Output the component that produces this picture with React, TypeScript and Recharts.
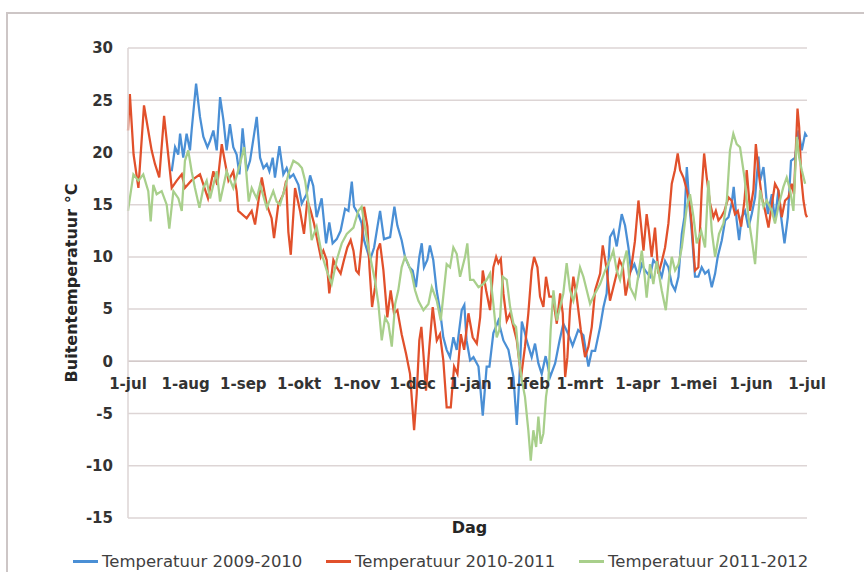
import { LineChart, Line, XAxis, YAxis, CartesianGrid, ReferenceLine, Legend } from "recharts";

const WIDTH = 864;
const HEIGHT = 572;
const PLOT_TOP = 48;
const PLOT_BOTTOM = 518;
const Y_MIN = -15;
const Y_MAX = 30;

const MONTH_DAYS = [0, 31, 62, 92, 123, 153, 184, 215, 243, 274, 304, 335, 365];
const MONTH_LABELS = ["1-jul", "1-aug", "1-sep", "1-okt", "1-nov", "1-dec", "1-jan", "1-feb", "1-mrt", "1-apr", "1-mei", "1-jun", "1-jul"];
const Y_TICKS = [-15, -10, -5, 0, 5, 10, 15, 20, 25, 30];

// days since 1 juli at the turning points of each line
const days0910 = [23.5, 25.3, 27, 28, 29.7, 31.5, 33.3, 34.2, 36.6, 38.7, 40.5, 42.7, 44.1, 45.9, 47.7, 49.5, 51.3, 53, 54.8, 56.6, 58.4, 59.9, 61.6, 63.8, 65.6, 69.2, 71, 72.8, 74.6, 76, 77.8, 79, 81.4, 83.5, 85.3, 87.1, 88.9, 91.6, 93.4, 96, 97.9, 99.6, 101.4, 104.1, 106.5, 108.2, 110, 112.2, 114.3, 116.7, 118.5, 120.3, 121.5, 123.8, 125.6, 126.9, 130.1, 132.3, 134.1, 135.5, 137.6, 140.9, 143.2, 144.8, 147.1, 148.9, 151.3, 153, 154.8, 156.6, 157.9, 159.1, 160.9, 162.3, 164.1, 165.9, 167.7, 169.5, 171.3, 173.1, 174.9, 176.7, 179.4, 180.8, 182, 183.9, 185.7, 188.4, 190.7, 192.8, 194.3, 196.4, 199.1, 201.8, 204.5, 207.2, 209, 210.8, 211.7, 213.4, 214.3, 217, 218.8, 220.6, 222.4, 224.5, 226.9, 229.6, 232, 234, 236.7, 239, 242, 244.8, 247.5, 249.3, 251.1, 253.8, 255.6, 257.3, 259.1, 261, 262.7, 265.4, 267.2, 269, 270.4, 272.2, 274.4, 276.2, 278, 280.6, 282.4, 284.2, 286.9, 288.7, 290.5, 292.3, 294.1, 295.9, 297.7, 299.1, 300.4, 301.6, 303, 304.8, 306.6, 308.4, 310.2, 312, 313.8, 315.6, 317, 319.2, 321, 322.8, 324.5, 325.6, 327.2, 328.5, 329.9, 331.7, 333.5, 335.3, 337.1, 338.9, 339.8, 341.6, 342.5, 343.9, 346.1, 347.8, 349.6, 351.1, 352.9, 354.7, 356.4, 358.6, 360.4, 362.2, 364, 365];
const temps0910 = [18.2, 20.5, 19.8, 21.8, 19.5, 21.8, 20.2, 22.1, 26.6, 23.4, 21.5, 20.5, 21.1, 22.1, 20.2, 25.3, 23.1, 20.2, 22.7, 20.5, 19.8, 17.9, 22.3, 18.2, 19.2, 23.4, 19.5, 18.5, 18.9, 18.2, 19.5, 17.6, 20.6, 17.9, 18.5, 17.6, 17.9, 16.9, 15.1, 16, 17.8, 16.8, 13.8, 15.6, 11.3, 13.3, 11.3, 11.7, 12.5, 14.6, 14.4, 17.2, 14.8, 14.1, 13.2, 11.6, 9.7, 10.9, 12.9, 14.4, 11.7, 11.9, 14.8, 13, 11.6, 10, 9, 8.7, 7.1, 10, 11.3, 9, 9.7, 11.1, 9.7, 6.8, 4.9, 2.3, 1.1, 0.4, 2.3, 1.1, 4.9, 5.4, 2, 0.1, 0.4, -0.5, -5.2, -0.5, -0.5, 2.7, 3.9, 2, 1.1, -1.5, -6.1, -0.2, 3.8, 2.7, 2, 0.4, 1.7, -0.2, -1.2, 0.5, -1.5, -0.2, 2, 3.6, 2.6, 1.5, 3, 2.5, -0.5, 1, 1, 3.3, 5.2, 6.5, 11.9, 12.5, 11, 14.1, 13, 10.9, 8.7, 9.3, 8.1, 9.3, 8.7, 8.1, 9.7, 9.3, 8.1, 9.6, 9, 7.4, 6.8, 8.1, 12.2, 13.8, 18.6, 15.4, 12.5, 8.1, 8.1, 9, 8.4, 8.7, 7.1, 8.4, 10, 11.6, 13.5, 13.8, 15.1, 16.7, 13.5, 11.6, 13.8, 14.4, 12.8, 14.1, 15.7, 19.6, 17.3, 18.6, 17, 14.1, 16, 13.5, 16.4, 13.8, 11.3, 13.8, 19.2, 19.5, 22.1, 20.2, 21.8, 21.5];

const days1011 = [0, 1, 3, 5.6, 8.6, 12.7, 14.5, 16.8, 19.4, 23.5, 26.2, 28.9, 30.6, 34, 38.7, 43, 45.9, 48, 50.4, 52, 54, 56.6, 58.4, 59.3, 63.8, 66.5, 68.3, 71.9, 74.6, 77.2, 78.5, 80.8, 83.5, 85, 86.2, 87.5, 89.8, 92.5, 94.6, 96.4, 98.2, 100, 101.8, 103.6, 105, 106.8, 108.2, 110.4, 112.2, 114.3, 116.1, 117.9, 119.7, 121.2, 122.6, 124, 125.6, 126.9, 128.7, 129.8, 131.2, 132.8, 134, 135.5, 137.3, 139.4, 141.2, 143, 144.8, 147.1, 149.5, 151.6, 153.8, 155.2, 156.6, 157.7, 158.8, 160.2, 162, 163.8, 166, 167.7, 169.5, 171.3, 173.5, 175.3, 177.1, 178.9, 180.7, 183, 185.3, 187.5, 189.3, 190.7, 192.5, 194.6, 196.4, 197.9, 199.1, 200.4, 201.8, 203.6, 205.4, 207.2, 209, 211.3, 213.4, 215.2, 217, 218.3, 220.1, 221.5, 223.3, 224.7, 226.5, 228.3, 230.5, 232.3, 233.7, 235, 236.2, 237.6, 239.4, 241.2, 243.4, 245.7, 247.5, 249.3, 251.1, 253.8, 255.2, 257.4, 259.1, 260.9, 262.7, 264.2, 266, 267.5, 270.8, 272.5, 274.4, 275.8, 277.1, 278.8, 280, 281.5, 283.3, 285.1, 287, 288.7, 290.5, 292.3, 294, 295.5, 296.8, 298.6, 300.4, 302.1, 303, 304.8, 306.6, 308.4, 309.7, 311.1, 312.9, 314.7, 316, 317.4, 318.8, 320.6, 322.8, 324.5, 326.3, 327.8, 329.6, 331.4, 332.6, 334.4, 336.2, 337.5, 338.9, 340.7, 342.5, 344.3, 346.1, 347.8, 349.6, 351.4, 353.2, 355, 356.8, 358, 359.9, 360.8, 361.9, 363.1, 364.3, 365];
const temps1011 = [22.1, 25.6, 19.8, 16.6, 24.5, 20.2, 18.9, 17.6, 23.5, 16.6, 17.3, 17.9, 16.6, 17.3, 17.9, 15.6, 18.2, 16.9, 20.8, 19.2, 17.3, 18.2, 16.3, 14.4, 13.7, 14.4, 13.1, 17.6, 15, 13.7, 11.8, 15, 16, 17.3, 12.4, 10.2, 16.6, 14.4, 12.2, 15.4, 14.4, 13.2, 11.6, 10, 10.6, 9.7, 6.5, 9.7, 9, 8.4, 9.7, 10.9, 11.6, 10.6, 8.7, 8.4, 11.3, 14.8, 12.9, 9, 5.2, 7.1, 10.6, 11.3, 8.7, 4.2, 6.8, 4.6, 4.9, 2.6, 0.7, -1.2, -6.6, -3.1, 2, 3.3, 0.7, -2.8, 1.4, 5.2, 2, 2.6, 0.1, -4.4, -4.4, -0.5, -1.2, 2.6, 1.1, 4.6, 2.3, 1.7, 4.2, 8.7, 6.8, 4.9, 9, 10, 9.4, 9.8, 6.5, 3.9, 4.6, 3.3, 2, -1.5, 1.4, 4.6, 8.7, 10, 9, 6.2, 5.2, 8.1, 6.2, 6.2, 3.6, 6.5, 4.6, -1.5, 0.4, 4.9, 8.1, 6.2, 3, 0.4, 1.4, 3.3, 6.8, 8.4, 11.1, 8.7, 5.8, 7.1, 8.4, 9.7, 9, 6.3, 9.3, 11.5, 15.4, 13, 10.6, 14.1, 12.5, 10, 12.8, 8.4, 9.6, 10.9, 13.2, 17, 18.3, 19.9, 18.3, 17.6, 16.4, 14.8, 13.2, 8.7, 9, 16.4, 19.9, 17.6, 15.1, 13.8, 14.4, 13.5, 13.8, 14.4, 15.7, 15.4, 14.1, 14.4, 12.9, 15.4, 18.3, 14.4, 16.4, 20.8, 18.3, 15.7, 14.4, 12.8, 15, 17, 16.4, 13.8, 15.4, 15.7, 17, 16, 24.2, 22.4, 17.6, 15.4, 14.1, 13.8];

const days1112 = [0, 2.9, 5.6, 8.2, 10.9, 12.2, 13.6, 15.4, 18.1, 20.8, 22.2, 24.4, 27.1, 28.9, 30.6, 32.4, 34.2, 36, 38.4, 40.5, 42.3, 44.1, 47.7, 49.5, 53, 56.6, 60.2, 62.4, 63.4, 64.9, 66.5, 69.2, 71, 74.6, 78.1, 79.9, 81.7, 84.4, 86.2, 88.9, 91.6, 93.5, 95.2, 97, 98.7, 101.4, 104.1, 106.8, 109.5, 112.2, 114.9, 117.6, 121.2, 123.8, 125.6, 127.4, 129.2, 131, 132.8, 134.6, 136.4, 138.2, 140, 141.8, 143.6, 145.3, 147.1, 148.9, 150.7, 152.5, 154.3, 156.1, 158.8, 161.5, 163.3, 166, 168.1, 171.3, 173.1, 174.9, 176.7, 178.5, 181.2, 182.4, 183.9, 185.7, 188.4, 191, 192.8, 194.6, 196.4, 198.2, 199.6, 201.4, 203.6, 205.4, 207.2, 208.6, 209.9, 211.7, 213.4, 215.2, 216.5, 217.9, 219.4, 220.6, 221.9, 223.3, 224.7, 226, 227.2, 228.7, 230.5, 232.3, 234, 235.8, 237.6, 239.4, 241.2, 243, 244.8, 246.6, 248.4, 250.2, 252, 253.8, 256.5, 259.1, 260.9, 262.7, 264.5, 266.3, 268.1, 269.9, 272.6, 276.2, 277.6, 278.8, 280.6, 282.4, 284.2, 286.9, 289.1, 290.9, 292.3, 294.1, 295.9, 297.7, 300.4, 302.1, 304, 305.7, 308.1, 310.2, 312, 313.8, 315.6, 317.7, 320.1, 321.9, 323.6, 325.4, 327.2, 329, 331.4, 333.5, 335.7, 337.1, 338.5, 339.8, 341.6, 343.4, 346.1, 347.8, 349.6, 352.3, 354.1, 355.9, 357.7, 359.5, 360.8, 362.2, 364];
const temps1112 = [14.4, 17.9, 17.3, 17.9, 16.3, 13.4, 16.9, 16, 16.3, 15, 12.7, 16.3, 15.6, 14.4, 19.2, 20.2, 18.2, 16.6, 14.7, 16.6, 17.3, 15.6, 18.2, 15.3, 18.2, 16.6, 18.9, 20.5, 18.5, 15.3, 16.6, 15.6, 16.9, 14.7, 16.3, 15.3, 15, 16.6, 17.9, 19.2, 18.9, 18.5, 17.3, 15.1, 11.6, 12.9, 10.3, 8.7, 7.4, 9.7, 11.3, 12.2, 12.8, 14.4, 14.8, 12.8, 10.9, 9.3, 7.7, 5.5, 2, 4.2, 3.6, 1.4, 5.5, 6.8, 9, 10, 9.3, 8.4, 6.8, 5.8, 4.9, 5.5, 7.1, 5.8, 3.9, 9.3, 9, 10.9, 10.3, 8.1, 10, 11.3, 7.8, 7.8, 7.1, 7.4, 7.8, 8.4, 5.5, 2.3, 3, 8.1, 7.8, 5.2, 3.6, 3.3, 0.7, -1.8, -3.4, -6.6, -9.5, -6.6, -8.2, -5.3, -7.9, -6.9, -3.4, -1.8, 3, 6.8, 3.9, 5.2, 6.5, 9.4, 6.8, 5.8, 7.1, 9, 8.1, 6.8, 5.5, 6.2, 6.8, 7.4, 8.7, 9.7, 10.6, 8.7, 7.8, 9.4, 10.6, 7.1, 6.1, 10.6, 8.4, 6.1, 9.3, 7.4, 9.6, 6.8, 4.9, 8.1, 10, 8.7, 9.3, 10.9, 14.8, 16, 13.8, 11.3, 12.5, 10.9, 17.3, 12.5, 10, 12.2, 13.2, 15.4, 20.2, 21.8, 20.8, 20.5, 17.6, 13.8, 11.2, 9.3, 13.2, 16.4, 14.8, 15.4, 14.4, 13.2, 14.8, 16.7, 17.6, 16.4, 14.4, 21.5, 19.5, 18.3, 17];

const SERIES = [
  { name: "Temperatuur 2009-2010", color: "#4a8fd5", days: days0910, temps: temps0910 },
  { name: "Temperatuur 2010-2011", color: "#e1502b", days: days1011, temps: temps1011 },
  { name: "Temperatuur 2011-2012", color: "#a8cf8b", days: days1112, temps: temps1112 },
];

const GRID = "#ddd5d5";
const TEXT = "#333333";

function MonthTick(props: any) {
  const { x, payload, index } = props;
  const zeroY = PLOT_TOP + ((PLOT_BOTTOM - PLOT_TOP) * Y_MAX) / (Y_MAX - Y_MIN);
  const label = index === MONTH_DAYS.length - 1 ? MONTH_LABELS[index] : MONTH_LABELS[MONTH_DAYS.indexOf(payload.value)];
  return (
    <text x={x} y={zeroY + 28} textAnchor="middle" fontSize={15} fontWeight="bold" fill={TEXT}>
      {label}
    </text>
  );
}

function YTitle(props: any) {
  const { viewBox } = props;
  const cx = viewBox.x + 63;
  const cy = viewBox.y + viewBox.height / 2;
  return (
    <text transform={`translate(${cx}, ${cy}) rotate(-90)`} textAnchor="middle" dominantBaseline="central" fontSize={16} fontWeight="bold" fill="#262626">
      Buitentemperatuur °C
    </text>
  );
}

function XTitle(props: any) {
  const { viewBox } = props;
  return (
    <text x={viewBox.x + viewBox.width / 2 + 2} y={viewBox.y + 15} textAnchor="middle" fontSize={16} fontWeight="bold" fill="#262626">
      Dag
    </text>
  );
}

function LegendRow(props: any) {
  const items = props.payload || [];
  return (
    <div style={{ display: "flex", paddingLeft: 73, height: 24, alignItems: "center" }}>
      {items.map((item: any) => (
        <div key={item.value} style={{ display: "flex", alignItems: "center", width: 253 }}>
          <span style={{ display: "inline-block", width: 25, height: 3, background: item.color, marginRight: 4 }} />
          <span style={{ fontSize: 16.5, color: "#404040", whiteSpace: "nowrap" }}>{item.value}</span>
        </div>
      ))}
    </div>
  );
}

export default function App() {
  return (
    <div style={{ position: "absolute", left: 0, top: 0, width: WIDTH, height: HEIGHT, background: "#fff", fontFamily: "'DejaVu Sans', Verdana, sans-serif", overflow: "hidden" }}>
      <div style={{ position: "absolute", left: 6, top: 12, width: WIDTH, height: HEIGHT, borderTop: "2px solid #cdc6c6", borderLeft: "2px solid #cdc6c6" }} />
      <LineChart width={WIDTH} height={HEIGHT} margin={{ top: PLOT_TOP, right: 57, bottom: 24, left: 8 }}>
        <CartesianGrid horizontal vertical={false} stroke={GRID} strokeWidth={1.5} />
        <XAxis
          type="number"
          dataKey="day"
          domain={[0, 365]}
          ticks={MONTH_DAYS}
          interval={0}
          allowDuplicatedCategory={false}
          axisLine={false}
          tickLine={false}
          height={30}
          tick={<MonthTick />}
          label={<XTitle />}
        />
        <YAxis
          type="number"
          domain={[Y_MIN, Y_MAX]}
          ticks={Y_TICKS}
          interval={0}
          width={120}
          axisLine={{ stroke: GRID, strokeWidth: 1.5 }}
          tickLine={false}
          tickSize={0}
          tickMargin={15}
          tick={{ fontSize: 15, fontWeight: "bold", fill: TEXT }}
          label={<YTitle />}
        />
        <ReferenceLine y={0} stroke="#d3caca" strokeWidth={1.5} />
        {SERIES.map((s) => (
          <Line
            key={s.name}
            name={s.name}
            data={s.days.map((d, i) => ({ day: d, temp: s.temps[i] }))}
            dataKey="temp"
            type="linear"
            stroke={s.color}
            strokeWidth={2.25}
            dot={false}
            isAnimationActive={false}
          />
        ))}
        <Legend
          layout="horizontal"
          verticalAlign="middle"
          align="center"
          wrapperStyle={{ top: 549, left: 0, width: WIDTH, height: 24 }}
          content={<LegendRow />}
        />
      </LineChart>
    </div>
  );
}
